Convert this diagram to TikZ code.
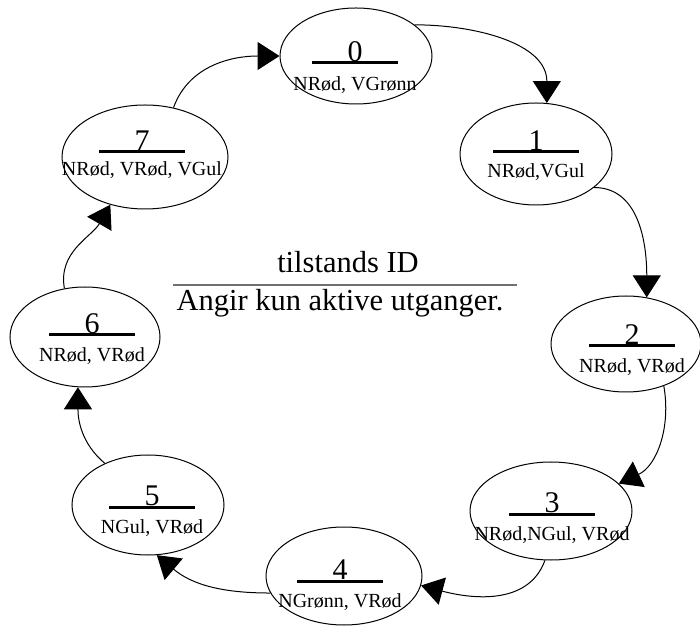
\documentclass[tikz,border=0pt]{standalone}
\usepackage{fontspec}
\setmainfont{Liberation Serif}
\usetikzlibrary{
  arrows.meta,
  shapes.geometric
}
\definecolor{skillegraa}{RGB}{112,112,112}

\begin{document}
\begin{tikzpicture}[
  x=1pt, y=1pt,
  tilstand/.style={
    draw,
    ellipse,
    fill=none,
    line width=1pt,
    inner sep=0pt,
  },
  strek/.style={
    line width=3pt,
  },
  nummer/.style={
    anchor=base,
    inner sep=0pt,
    yshift=1.5pt,
    font=\fontsize{30}{30}\selectfont,
  },
  etikett/.style={
    anchor=base,
    inner sep=0pt,
    font=\fontsize{20}{24}\selectfont,
  },
  forklaring/.style={
    anchor=base,
    inner sep=0pt,
    font=\fontsize{30.5}{34}\selectfont,
  },
  pil/.style={
    ->,
    line width=1pt,
  },
  >={Triangle[length=22pt,width=28pt]}
]
\useasboundingbox (0,0) rectangle (700,626);

% Tilstander
\node[tilstand, minimum width=152pt, minimum height=96pt] (s0) at (356,570) {};
\coordinate (b0) at (355,563);
\draw[strek] ([xshift=-43pt]b0) -- ([xshift=43pt]b0);
\node[nummer] (n0) at (b0) {0};
\node[etikett] (e0) at ([yshift=-28pt]b0) {NRød, VGrønn};

\node[tilstand, minimum width=152pt, minimum height=102pt] (s1) at (536,472) {};
\coordinate (b1) at (536,474);
\draw[strek] ([xshift=-43pt]b1) -- ([xshift=43pt]b1);
\node[nummer] (n1) at (b1) {1};
\node[etikett] (e1) at ([yshift=-26pt]b1) {NRød,VGul};

\node[tilstand, minimum width=150pt, minimum height=96pt] (s2) at (626,282) {};
\coordinate (b2) at (632,280);
\draw[strek] ([xshift=-43pt]b2) -- ([xshift=43pt]b2);
\node[nummer] (n2) at (b2) {2};
\node[etikett] (e2) at ([yshift=-27pt]b2) {NRød, VRød};

\node[tilstand, minimum width=162pt, minimum height=98pt] (s3) at (551,115) {};
\coordinate (b3) at (552,112);
\draw[strek] ([xshift=-43pt]b3) -- ([xshift=43pt]b3);
\node[nummer] (n3) at (b3) {3};
\node[etikett] (e3) at ([yshift=-26pt]b3) {NRød,NGul, VRød};

\node[tilstand, minimum width=156pt, minimum height=98pt] (s4) at (344,50) {};
\coordinate (b4) at (340,45);
\draw[strek] ([xshift=-43pt]b4) -- ([xshift=43pt]b4);
\node[nummer] (n4) at (b4) {4};
\node[etikett] (e4) at ([yshift=-26pt]b4) {NGrønn, VRød};

\node[tilstand, minimum width=152pt, minimum height=100pt] (s5) at (148,121) {};
\coordinate (b5) at (152,119);
\draw[strek] ([xshift=-43pt]b5) -- ([xshift=43pt]b5);
\node[nummer] (n5) at (b5) {5};
\node[etikett] (e5) at ([yshift=-26pt]b5) {NGul, VRød};

\node[tilstand, minimum width=150pt, minimum height=100pt] (s6) at (85,289) {};
\coordinate (b6) at (92,291);
\draw[strek] ([xshift=-43pt]b6) -- ([xshift=43pt]b6);
\node[nummer] (n6) at (b6) {6};
\node[etikett] (e6) at ([yshift=-27pt]b6) {NRød, VRød};

\node[tilstand, minimum width=166pt, minimum height=104pt] (s7) at (145,469) {};
\coordinate (b7) at (142,474);
\draw[strek] ([xshift=-43pt]b7) -- ([xshift=43pt]b7);
\node[nummer] (n7) at (b7) {7};
\node[etikett] (e7) at ([yshift=-24pt]b7) {NRød, VRød, VGul};

% Forklaring
\node[forklaring] (id) at (348,353) {tilstands ID};
\node[forklaring] (utg) at (340,315) {Angir kun aktive utganger.};
\coordinate (sv) at (173,341);
\coordinate (sh) at (517,341);
\draw[skillegraa, line width=1.2pt] (sv) -- (sh);

% Overganger
\draw[pil] (s0.28) to[out=0,in=90] (s1.78);
\draw[pil] (s1.-30) to[out=0,in=90] (s2.66);
\draw[pil] (s2.-48) to[out=-80,in=25] (s3.22);
\draw[pil] (s3.-97) to[out=-110,in=-15] (s4.-7);
\draw[pil] (s4.-167) to[out=180,in=-40] (s5.-80);
\draw[pil] (s5.136) to[out=140,in=-90] (s6.-98);
\draw[pil] (s6.113) to[out=100,in=-120] (s7.-126);
\draw[pil] (s7.60) to[out=70,in=180] (s0.180);

\end{tikzpicture}
\end{document}
